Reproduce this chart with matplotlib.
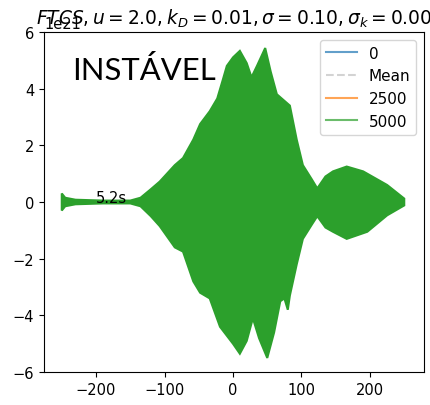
import matplotlib.pyplot as plt
import numpy as np

# envelope of the final (t=5000) solution, in units of 1e21
x_up = [-250, -245, -230, -190, -150, -135, -120, -107, -85, -73, -58, -48, -34, -23, -15, -9,
        0, 10, 20, 27, 35, 47, 55, 64, 83, 93, 102, 115, 123, 135, 146, 166, 190, 225, 250]
y_up = [0.3, 0.15, 0.08, 0.05, 0.05, 0.15, 0.45, 0.72, 1.3, 1.55, 2.2, 2.75, 3.2, 3.65, 4.3, 4.8,
        5.1, 5.33, 4.9, 4.4, 4.8, 5.43, 4.6, 3.8, 3.4, 2.2, 1.3, 0.8, 0.48, 0.9, 1.08, 1.25, 1.08, 0.6, 0.12]
x_lo = [-250, -245, -230, -190, -150, -135, -120, -107, -85, -73, -58, -48, -34, -19,
        0, 10, 20, 29, 38, 50, 60, 69, 75, 80, 83, 93, 102, 115, 123, 135, 146, 166, 196, 225, 250]
y_lo = [-0.3, -0.15, -0.08, -0.05, -0.05, -0.15, -0.5, -0.85, -1.6, -1.75, -2.8, -3.2, -3.4, -4.4,
        -5.0, -5.35, -4.9, -4.1, -4.8, -5.5, -4.6, -3.5, -3.4, -3.8, -3.3, -2.2, -1.3, -0.8, -0.5, -0.9, -1.05, -1.3, -1.05, -0.47, -0.12]
scale = 1e21

plt.rcParams['font.size'] = 10.5

fig = plt.figure(figsize=(4.31, 4.06), dpi=100)
ax = fig.add_axes([0.102, 0.081, 0.882, 0.838])

# build a closed polygon from upper and lower envelopes
xs = np.concatenate([x_up, x_lo[::-1]])
ys = np.concatenate([y_up, y_lo[::-1]]) * scale
ax.fill(xs, ys, color='C2', lw=1.5, ec='C2')

# legend entries
ax.plot([], [], color='C0', alpha=0.7, label='0')
ax.plot([], [], color='lightgray', ls='--', label='Mean')
ax.plot([], [], color='C1', alpha=0.7, label='2500')
ax.plot([], [], color='C2', alpha=0.7, label='5000')

ax.set_xlim(-276, 279)
ax.set_ylim(-6 * scale, 6 * scale)
ax.set_yticks(np.arange(-6, 7, 2) * scale)
ax.set_xticks([-200, -100, 0, 100, 200])

ax.text(-200, 0, '5.2s', va='baseline')
ax.text(-235, 4.33 * scale, 'INSTÁVEL', family='Lato', fontsize=22.3, va='baseline')

ax.set_title(r'$FTCS, u = 2.0, k_D = 0.01, \sigma = 0.10, \sigma_k = 0.00$', y=1.0, fontsize=13.4)
ax.legend(loc='upper right', fontsize=11)

fig.savefig('out.png')
